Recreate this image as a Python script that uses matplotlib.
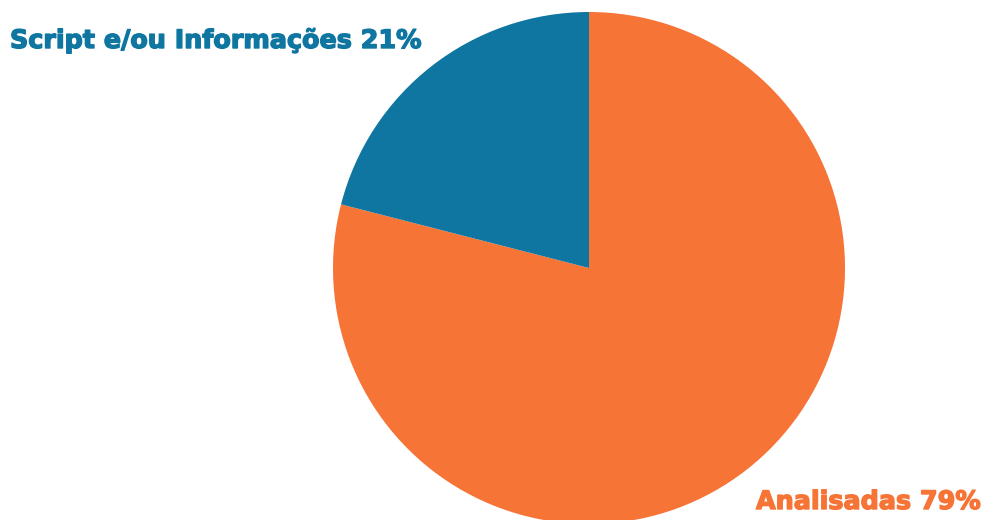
import matplotlib
matplotlib.use("Agg")
import matplotlib.pyplot as plt
import matplotlib.patheffects as pe

labels = ["Analisadas", "Script e/ou Informações"]
values = [79, 21]
colors = ["#F77437", "#0E76A0"]

fig = plt.figure(figsize=(9.84, 5.2), dpi=100)
ax = fig.add_axes([333/984, -4/520, 512/984, 512/520])
ax.pie(values, colors=colors, startangle=90, counterclock=False, radius=1,
       wedgeprops=dict(linewidth=0))
ax.set_xlim(-1, 1)
ax.set_ylim(-1, 1)
ax.set_aspect("equal")
ax.axis("off")
for p in ax.patches:
    p.set_clip_on(False)

t1 = fig.text(10/984, 1 - 48/520, f"{labels[1]} {values[1]}%", color=colors[1],
              fontsize=18.3, fontweight="bold", family="DejaVu Sans", ha="left", va="baseline")
t2 = fig.text(756/984, 1 - 509/520, f"{labels[0]} {values[0]}%", color=colors[0],
              fontsize=18.3, fontweight="bold", family="DejaVu Sans", ha="left", va="baseline")
for t in (t1, t2):
    t.set_path_effects([pe.withStroke(linewidth=1.0, foreground=t.get_color())])

fig.savefig("out.png", dpi=100)
